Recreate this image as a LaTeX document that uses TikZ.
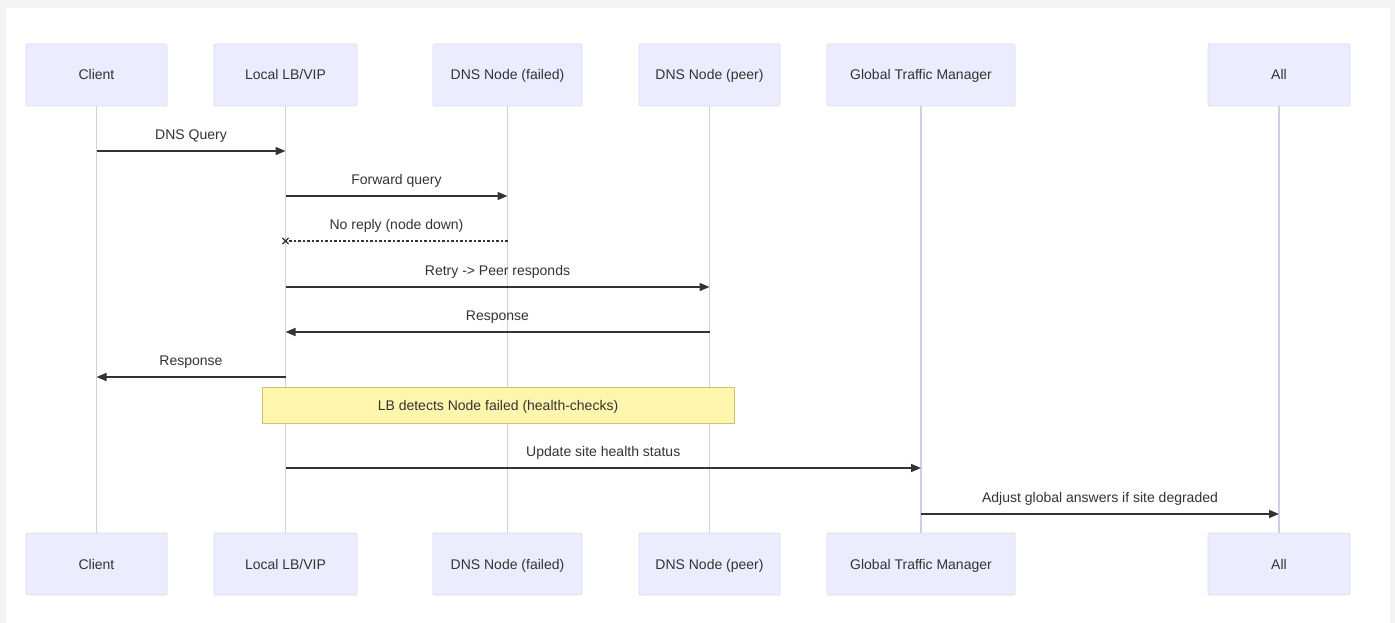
\documentclass[tikz,border=0pt]{standalone}
\usepackage{fontspec}
\setmainfont{Liberation Sans}
\usetikzlibrary{arrows.meta,shapes.misc}
\definecolor{boxfill}{HTML}{ECECFF}
\definecolor{boxline}{HTML}{DCDCF2}
\definecolor{lifeline}{HTML}{CFCFEA}
\definecolor{txt}{HTML}{333333}
\definecolor{notefill}{HTML}{FFF5AD}
\definecolor{noteline}{HTML}{CFC46A}
\definecolor{outer}{HTML}{F4F4F4}
\tikzset{
  actor/.style={draw=boxline, fill=boxfill, rounded corners=2pt, minimum height=62pt, text=txt, font=\fontsize{14}{16}\selectfont, inner sep=0pt, text height=12pt, text depth=2pt, line width=0.8pt},
  life/.style={draw=lifeline, line width=1.3pt},
  msg/.style={draw=txt, line width=1.5pt, -{Triangle[length=10pt,width=8pt]}},
  reply/.style={draw=txt, line width=1.3pt, dash pattern=on 2.5pt off 2pt},
  lbl/.style={text=txt, font=\fontsize{14}{16}\selectfont, inner sep=0pt, text height=12pt, text depth=2pt},
  notebox/.style={draw=noteline, fill=notefill, line width=0.8pt, text=txt, font=\fontsize{14}{16}\selectfont, inner sep=0pt, text height=12pt, text depth=2pt, minimum height=36pt, minimum width=472pt},
  xmark/.style={cross out, draw=txt, line width=1.2pt, minimum size=5pt, inner sep=0pt}
}
\begin{document}
\begin{tikzpicture}[x=1pt,y=-1pt]
\useasboundingbox (0,0) rectangle (1395,623);
\fill[outer] (0,0) rectangle (1395,623);
\fill[white] (6,8) rectangle (1390,623);
% top actors
\node[actor, minimum width=141pt] (tC) at (96.5,75) {Client};
\node[actor, minimum width=143pt] (tL) at (285.5,75) {Local LB/VIP};
\node[actor, minimum width=149pt] (tF) at (507.5,75) {DNS Node (failed)};
\node[actor, minimum width=141pt] (tP) at (709.5,75) {DNS Node (peer)};
\node[actor, minimum width=188pt] (tG) at (921,75) {Global Traffic Manager};
\node[actor, minimum width=142pt] (tA) at (1279,75) {All};
% bottom actors
\node[actor, minimum width=141pt] (bC) at (96.5,564) {Client};
\node[actor, minimum width=143pt] (bL) at (285.5,564) {Local LB/VIP};
\node[actor, minimum width=149pt] (bF) at (507.5,564) {DNS Node (failed)};
\node[actor, minimum width=141pt] (bP) at (709.5,564) {DNS Node (peer)};
\node[actor, minimum width=188pt] (bG) at (921,564) {Global Traffic Manager};
\node[actor, minimum width=142pt] (bA) at (1279,564) {All};
% lifelines
\foreach \a in {C,L,F,P,G,A} { \draw[life] (t\a.south) -- (b\a.north); }
% message rows
\coordinate (r1) at (0,151);
\coordinate (r2) at (0,196);
\coordinate (r3) at (0,241);
\coordinate (r4) at (0,287);
\coordinate (r5) at (0,332);
\coordinate (r6) at (0,377);
\coordinate (r8) at (0,468);
\coordinate (r9) at (0,514);
% note
\node[notebox] (note) at (498,405) {LB detects Node failed (health-checks)};
% messages
\draw[msg] (tC |- r1) -- (tL |- r1) node[lbl, midway, above=9pt] {DNS Query};
\draw[msg] (tL |- r2) -- (tF |- r2) node[lbl, midway, above=9pt] {Forward query};
\node[xmark] (x3) at (tL |- r3) {};
\draw[reply] (tF |- r3) -- (x3.center) node[lbl, midway, above=9pt] {No reply (node down)};
\draw[msg] (tL |- r4) -- (tP |- r4) node[lbl, midway, above=9pt] {Retry -> Peer responds};
\draw[msg] (tP |- r5) -- (tL |- r5) node[lbl, midway, above=9pt] {Response};
\draw[msg] (tL |- r6) -- (tC |- r6) node[lbl, midway, above=9pt] {Response};
\draw[msg] (tL |- r8) -- (tG |- r8) node[lbl, midway, above=9pt] {Update site health status};
\draw[msg] (tG |- r9) -- (tA |- r9) node[lbl, midway, above=9pt] {Adjust global answers if site degraded};
\end{tikzpicture}
\end{document}
